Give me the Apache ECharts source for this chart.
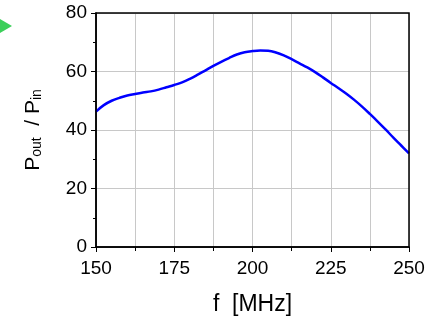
<!DOCTYPE html>
<html lang="en">
<head>
  <meta charset="UTF-8">
  <title>Pout / Pin vs f</title>
  <script src="https://cdn.jsdelivr.net/npm/echarts@6/dist/echarts.min.js"></script>
</head>
<body style="margin:0">
  <div id="main" style="width: 434px;height:320px;"></div>

  <script type="text/javascript">
    // Frequency [MHz] and measured power ratio
    const freq = [150, 152.5, 155, 157.5, 160, 162.5, 165, 167.5, 170, 172.5, 175, 177.5, 180, 182.5, 185,
      187.5, 190, 192.5, 195, 197.5, 200, 202.5, 205, 207.5, 210, 212.5, 215, 217.5, 220, 222.5, 225,
      227.5, 230, 232.5, 235, 237.5, 240, 242.5, 245, 247.5, 250];
    const ratio = [46.3, 48.5, 50.0, 51.0, 51.8, 52.3, 52.8, 53.2, 53.8, 54.6, 55.4, 56.3, 57.5, 58.9, 60.4,
      61.9, 63.3, 64.6, 65.8, 66.6, 67.0, 67.2, 67.1, 66.5, 65.5, 64.2, 62.8, 61.4, 59.8, 58.0, 56.1,
      54.3, 52.4, 50.3, 48.0, 45.5, 42.9, 40.2, 37.4, 34.7, 32.0];

    const font = 'Liberation Sans, Arial, sans-serif';
    let myChart = echarts.init(document.getElementById('main'));

    const options = {
      animation: false,
      grid: { left: 96, right: 25, top: 13, bottom: 73, outerBoundsMode: 'none' },
      xAxis: {
        type: 'value', min: 150, max: 250, interval: 25,
        name: 'f  [MHz]', nameLocation: 'middle', nameGap: 46,
        nameTextStyle: { fontFamily: font, fontSize: 23, color: '#000' },
        axisLine: { lineStyle: { color: '#000', width: 1.5 } },
        axisTick: { length: 5, lineStyle: { color: '#000' } },
        minorTick: { show: true, splitNumber: 2, length: 4, lineStyle: { color: '#000' } },
        splitLine: { show: true, lineStyle: { color: '#c8c8c8' } },
        minorSplitLine: { show: true, lineStyle: { color: '#c8c8c8' } },
        axisLabel: { fontFamily: font, fontSize: 19, color: '#000', margin: 12 }
      },
      yAxis: {
        type: 'value', min: 0, max: 80, interval: 20,
        name: '{a|P}{s|out}{a|  / P}{s|in}', nameLocation: 'middle', nameGap: 52,
        nameTextStyle: {
          rich: {
            a: { fontFamily: font, fontSize: 21, color: '#000' },
            s: { fontFamily: font, fontSize: 14, color: '#000', verticalAlign: 'bottom', padding: [8, 0, 0, 0] }
          }
        },
        axisLine: { show: true, lineStyle: { color: '#000', width: 1.5 } },
        axisTick: { length: 5, lineStyle: { color: '#000' } },
        minorTick: { show: true, splitNumber: 2, length: 3, lineStyle: { color: '#000' } },
        splitLine: { show: true, lineStyle: { color: '#c8c8c8' } },
        axisLabel: { fontFamily: font, fontSize: 19, color: '#000', margin: 9 }
      },
      graphic: [
        { type: 'polygon', shape: { points: [[0, 19], [12, 26], [0, 33]] }, style: { fill: '#3ccf5a' } },
        { type: 'rect', shape: { x: 96, y: 13, width: 313, height: 234 }, style: { fill: 'none', stroke: '#000', lineWidth: 1.5 }, z: 10 }
      ],
      series: [{
        type: 'line',
        data: freq.map((f, i) => [f, ratio[i]]),
        smooth: 0.4,
        showSymbol: false,
        lineStyle: { color: '#0000ff', width: 2.5 }
      }]
    };

    myChart.setOption(options);
  </script>
</body>
</html>
